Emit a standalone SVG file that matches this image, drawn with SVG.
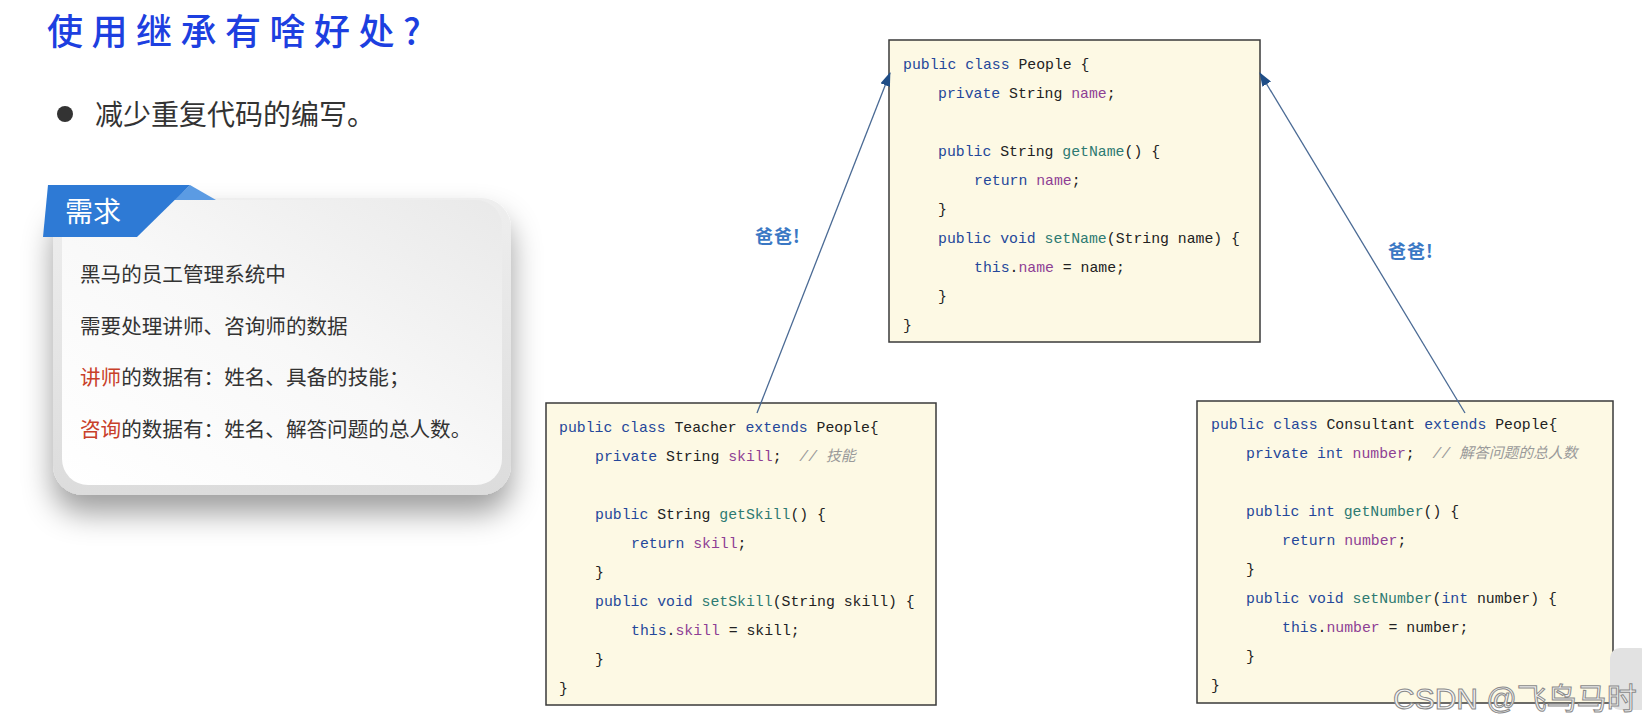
<svg xmlns="http://www.w3.org/2000/svg" width="1642" height="727" viewBox="0 0 1642 727">
<defs>
<style>
.code{font-family:"Liberation Mono","Noto Sans CJK SC",monospace;font-size:14.8px;fill:#222;white-space:pre;}
.kw{fill:#24479a;}
.fd{fill:#8e3f94;}
.mt{fill:#2d7a72;}
.cm{fill:#9a9a9a;font-style:italic;}
.box{fill:#fdf9e4;stroke:#3a3a3a;stroke-width:1.5;}
.cn{font-family:"Noto Sans CJK SC",sans-serif;}
.card{font-family:"Noto Sans CJK SC",sans-serif;font-size:20.6px;fill:#333;}
.red{fill:#c8402a;}
.lbl{font-family:"Noto Sans CJK SC",sans-serif;font-size:18px;font-weight:bold;fill:#3a78c4;letter-spacing:1px;}
.link{stroke:#4a6a94;stroke-width:1.3;fill:none;marker-end:url(#ah);}
</style>
<marker id="ah" markerUnits="userSpaceOnUse" markerWidth="14" markerHeight="10" refX="13" refY="5" orient="auto">
<path d="M0,0 L14,5 L0,10 z" fill="#1f4d86"/>
</marker>
<linearGradient id="inner" x1="0" y1="1" x2="1" y2="0">
<stop offset="0" stop-color="#ffffff"/>
<stop offset="0.5" stop-color="#f8f8f8"/>
<stop offset="1" stop-color="#e9e9e9"/>
</linearGradient>
<linearGradient id="shell" x1="0" y1="0" x2="0" y2="1">
<stop offset="0" stop-color="#eeeeee"/>
<stop offset="1" stop-color="#dcdcdc"/>
</linearGradient>
<filter id="sh" x="-20%" y="-20%" width="140%" height="160%">
<feDropShadow dx="0" dy="18" stdDeviation="15" flood-color="#000" flood-opacity="0.38"/>
</filter>
</defs>
<rect width="1642" height="727" fill="#ffffff"/>

<g id="title">
<text x="47" y="45" class="cn" font-size="36" font-weight="500" letter-spacing="8.5" fill="#1d3fe0">使用继承有啥好处?</text>
</g>

<g id="bullet">
<circle cx="65" cy="114" r="8" fill="#333"/>
<text x="95" y="125" class="cn" font-size="28" fill="#333">减少重复代码的编写。</text>
</g>

<g id="requirement-card">
<rect x="53" y="198" width="458" height="297" rx="30" fill="url(#shell)" filter="url(#sh)"/>
<rect x="62" y="200" width="440" height="285" rx="26" fill="url(#inner)"/>
<polygon points="190,185 216,200 174,200" fill="#5b9be3"/>
<polygon points="48,185 190,185 137,237 43,237" fill="#2e7ad5"/>
<text x="65" y="222" class="cn" font-size="28" fill="#ffffff">需求</text>
<text x="80" y="282" class="card">黑马的员工管理系统中</text>
<text x="80" y="334" class="card">需要处理讲师、咨询师的数据</text>
<text x="80" y="385" class="card"><tspan class="red">讲师</tspan>的数据有：姓名、具备的技能；</text>
<text x="80" y="437" class="card"><tspan class="red">咨询</tspan>的数据有：姓名、解答问题的总人数。</text>
</g>

<g id="people">
<rect x="889" y="40" width="371" height="302" class="box"/>
<text class="code" x="903" y="69"><tspan class="kw">public class</tspan> People {</text>
<text class="code" x="938" y="98"><tspan class="kw">private</tspan> String <tspan class="fd">name</tspan>;</text>
<text class="code" x="938" y="156"><tspan class="kw">public</tspan> String <tspan class="mt">getName</tspan>() {</text>
<text class="code" x="974" y="185"><tspan class="kw">return</tspan> <tspan class="fd">name</tspan>;</text>
<text class="code" x="938" y="214">}</text>
<text class="code" x="938" y="243"><tspan class="kw">public void</tspan> <tspan class="mt">setName</tspan>(String name) {</text>
<text class="code" x="974" y="272"><tspan class="kw">this</tspan>.<tspan class="fd">name</tspan> = name;</text>
<text class="code" x="938" y="301">}</text>
<text class="code" x="903" y="330">}</text>
</g>

<g id="teacher">
<rect x="546" y="403" width="390" height="302" class="box"/>
<text class="code" x="559" y="432"><tspan class="kw">public class</tspan> Teacher <tspan class="kw">extends</tspan> People{</text>
<text class="code" x="595" y="461" xml:space="preserve"><tspan class="kw">private</tspan> String <tspan class="fd">skill</tspan>;  <tspan class="cm">// 技能</tspan></text>
<text class="code" x="595" y="519"><tspan class="kw">public</tspan> String <tspan class="mt">getSkill</tspan>() {</text>
<text class="code" x="631" y="548"><tspan class="kw">return</tspan> <tspan class="fd">skill</tspan>;</text>
<text class="code" x="595" y="577">}</text>
<text class="code" x="595" y="606"><tspan class="kw">public void</tspan> <tspan class="mt">setSkill</tspan>(String skill) {</text>
<text class="code" x="631" y="635"><tspan class="kw">this</tspan>.<tspan class="fd">skill</tspan> = skill;</text>
<text class="code" x="595" y="664">}</text>
<text class="code" x="559" y="693">}</text>
</g>

<g id="consultant">
<rect x="1197" y="401" width="416" height="302" class="box"/>
<text class="code" x="1211" y="429"><tspan class="kw">public class</tspan> Consultant <tspan class="kw">extends</tspan> People{</text>
<text class="code" x="1246" y="458" xml:space="preserve"><tspan class="kw">private int</tspan> <tspan class="fd">number</tspan>;  <tspan class="cm">// 解答问题的总人数</tspan></text>
<text class="code" x="1246" y="516"><tspan class="kw">public int</tspan> <tspan class="mt">getNumber</tspan>() {</text>
<text class="code" x="1282" y="545"><tspan class="kw">return</tspan> <tspan class="fd">number</tspan>;</text>
<text class="code" x="1246" y="574">}</text>
<text class="code" x="1246" y="603"><tspan class="kw">public void</tspan> <tspan class="mt">setNumber</tspan>(<tspan class="kw">int</tspan> number) {</text>
<text class="code" x="1282" y="632"><tspan class="kw">this</tspan>.<tspan class="fd">number</tspan> = number;</text>
<text class="code" x="1246" y="661">}</text>
<text class="code" x="1211" y="690">}</text>
</g>

<g id="connectors">
<line x1="757" y1="413" x2="890" y2="73" class="link"/>
<line x1="1465" y1="413" x2="1260" y2="73" class="link"/>
<text x="755" y="243" class="lbl">爸爸!</text>
<text x="1388" y="258" class="lbl">爸爸!</text>
</g>

<g id="watermark">
<rect x="1610" y="648" width="40" height="62" rx="10" fill="#e2e2e2"/>
<text x="1393" y="709" font-family="'Liberation Sans','Noto Sans CJK SC',sans-serif" font-size="30" fill="#f4f4f4" stroke="#8a8a8a" stroke-width="1">CSDN @飞鸟马时</text>
</g>
</svg>
